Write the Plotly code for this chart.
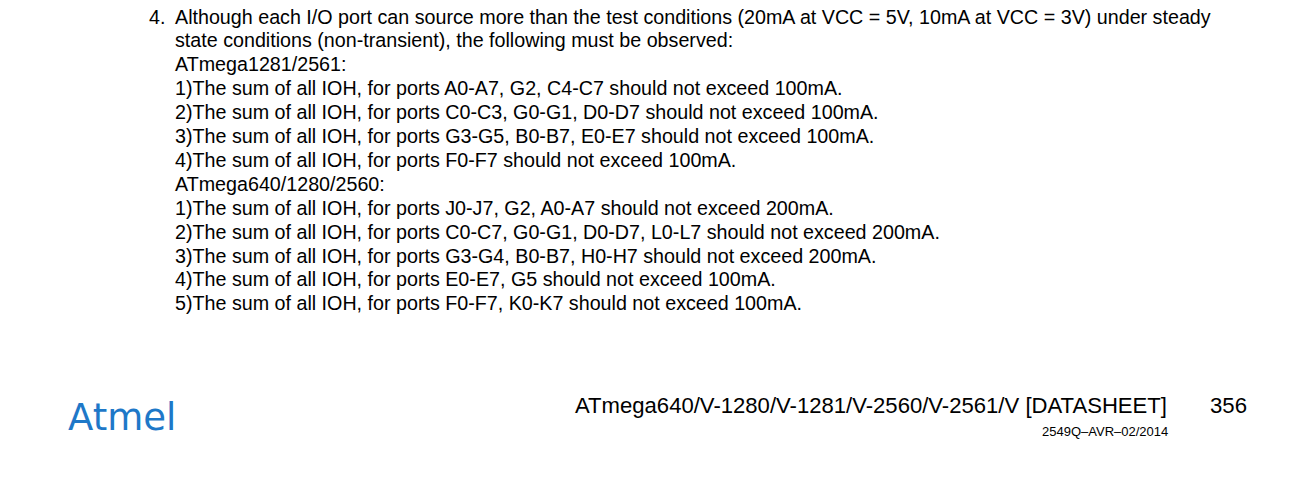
import plotly.graph_objects as go

# body text of the note, one entry per printed line
note_number = "4."
note_lines = [
    "Although each I/O port can source more than the test conditions (20mA at VCC = 5V, 10mA at VCC = 3V) under steady",
    "state conditions (non-transient), the following must be observed:",
    "ATmega1281/2561:",
    "1)The sum of all IOH, for ports A0-A7, G2, C4-C7 should not exceed 100mA.",
    "2)The sum of all IOH, for ports C0-C3, G0-G1, D0-D7 should not exceed 100mA.",
    "3)The sum of all IOH, for ports G3-G5, B0-B7, E0-E7 should not exceed 100mA.",
    "4)The sum of all IOH, for ports F0-F7 should not exceed 100mA.",
    "ATmega640/1280/2560:",
    "1)The sum of all IOH, for ports J0-J7, G2, A0-A7 should not exceed 200mA.",
    "2)The sum of all IOH, for ports C0-C7, G0-G1, D0-D7, L0-L7 should not exceed 200mA.",
    "3)The sum of all IOH, for ports G3-G4, B0-B7, H0-H7 should not exceed 200mA.",
    "4)The sum of all IOH, for ports E0-E7, G5 should not exceed 100mA.",
    "5)The sum of all IOH, for ports F0-F7, K0-K7 should not exceed 100mA.",
]

logo_text = "Atmel"
footer_title = "ATmega640/V-1280/V-1281/V-2560/V-2561/V [DATASHEET]"
page_number = "356"
doc_code = "2549Q\u2013AVR\u201302/2014"

W, H = 1311, 483
FONT = "Liberation Sans, Arial, sans-serif"

fig = go.Figure()
# invisible trace so the axes exist
fig.add_trace(go.Scatter(x=[0, W], y=[0, H], mode="markers",
                         marker=dict(opacity=0), hoverinfo="skip", showlegend=False))

top, step = 16.5, 23.9
fig.add_annotation(x=148, y=top, text=note_number, xanchor="left", yanchor="middle",
                   showarrow=False, borderpad=0,
                   font=dict(family=FONT, size=19.7, color="#000000"))
for i, line in enumerate(note_lines):
    fig.add_annotation(x=174, y=top + i * step, text=line, xanchor="left", yanchor="middle",
                       showarrow=False, borderpad=0,
                       font=dict(family=FONT, size=19.7, color="#000000"))

fig.add_annotation(x=67, y=417, text=logo_text, xanchor="left", yanchor="middle",
                   showarrow=False, borderpad=0,
                   font=dict(family="DejaVu Sans, sans-serif", size=37, color="#1e78c8"))
fig.add_annotation(x=1169, y=405, text=footer_title, xanchor="right", yanchor="middle",
                   showarrow=False, font=dict(family=FONT, size=22.1, color="#000000"))
fig.add_annotation(x=1249, y=405, text=page_number, xanchor="right", yanchor="middle",
                   showarrow=False, font=dict(family=FONT, size=22.2, color="#000000"))
fig.add_annotation(x=1170, y=431, text=doc_code, xanchor="right", yanchor="middle",
                   showarrow=False, font=dict(family=FONT, size=13, color="#000000"))

# axis units are screen pixels of the photographed window
fig.update_xaxes(range=[0, W], visible=False, fixedrange=True)
fig.update_yaxes(range=[H, 0], visible=False, fixedrange=True)
fig.update_layout(width=W, height=H, margin=dict(l=0, r=0, t=0, b=0),
                  plot_bgcolor="white", paper_bgcolor="white")

# drop the default body margin so the figure sits at the window corner
fig.write_html("out.html", config={"displayModeBar": False},
               post_script="document.body.style.margin='0';")
